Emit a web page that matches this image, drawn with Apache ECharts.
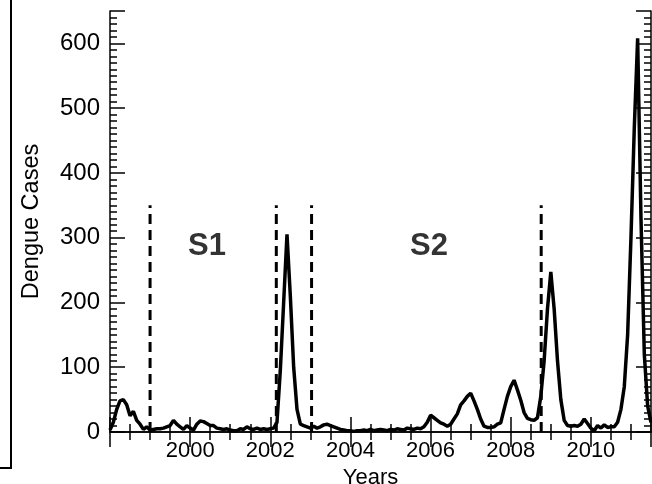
<!DOCTYPE html>
<html>
<head>
<meta charset="utf-8">
<script src="https://cdn.jsdelivr.net/npm/echarts@6/dist/echarts.min.js"></script>
<style>
  html, body { margin: 0; padding: 0; background: #fff; }
  #chart { width: 652px; height: 484px; }
</style>
</head>
<body>
<div id="chart"></div>
<script>
// monthly dengue cases, first month = Jan 1998
const startYear = 1998;
const cases = [
  3, 15, 35, 48, 50, 42, 25, 32, 18, 12, 4, 8,
  3, 4, 5, 5, 6, 8, 10, 18, 12, 8, 4, 10,
  6, 3, 12, 17, 16, 13, 10, 10, 6, 5, 4, 5,
  3, 2, 2, 5, 4, 8, 5, 4, 6, 4, 5, 4,
  5, 6, 15, 95, 200, 305, 210, 100, 35, 12, 10, 8,
  6, 9, 6, 8, 11, 12, 10, 8, 6, 4, 3, 2,
  2, 1, 2, 2, 3, 2, 4, 2, 3, 4, 3, 2,
  4, 3, 5, 4, 3, 6, 5, 4, 6, 5, 8, 15,
  26, 22, 18, 14, 12, 9, 12, 20, 28, 42, 48, 55,
  60, 48, 35, 20, 9, 7, 7, 8, 12, 14, 35, 55,
  70, 80, 65, 49, 30, 21, 19, 18, 22, 55, 110, 190,
  247, 190, 110, 50, 18, 10, 9, 10, 9, 12, 20, 13,
  6, 2, 10, 6, 11, 7, 8, 8, 15, 35, 70, 150,
  300, 470, 608, 330, 120, 40, 15
];

// dashed dividers between periods
const dividerYears = [1999.0, 2002.15, 2003.03, 2008.76];
const dividerTop = 350;

// period labels
const periodNames = ['S1', 'S2'];
const periodX = [2000.42, 2005.96];
const periodY = [286, 286];

const xTickLabels = [2000, 2002, 2004, 2006, 2008, 2010];
const yTickLabels = [0, 100, 200, 300, 400, 500, 600];

const xMin = 1998, xMax = 2011.5;
const yMin = 0, yMax = 650;

const font = 'Liberation Sans';

const lineData = cases.map((v, i) => [startYear + i / 12, v]);

// one axis for major ticks + labels, a second (no line) for the minor ticks
function xAx(pos, interval, len, withLabels) {
  return {
    type: 'value',
    position: pos,
    min: xMin,
    max: xMax,
    interval: interval,
    splitLine: { show: false },
    axisLine: { show: withLabels !== null, lineStyle: { color: '#000', width: 1.5 } },
    axisTick: { inside: true, length: len, lineStyle: { color: '#000', width: 1.5 } },
    axisLabel: withLabels ? {
      show: true,
      color: '#000',
      fontFamily: font,
      fontSize: 22,
      margin: 8,
      formatter: v => xTickLabels.includes(v) ? String(v) : ''
    } : { show: false }
  };
}

function yAx(pos, interval, len, withLabels) {
  return {
    type: 'value',
    position: pos,
    min: yMin,
    max: yMax,
    interval: interval,
    splitLine: { show: false },
    axisLine: { show: withLabels !== null, lineStyle: { color: '#000', width: 1.5 } },
    axisTick: { inside: true, length: len, lineStyle: { color: '#000', width: 1.5 } },
    axisLabel: withLabels ? {
      show: true,
      color: '#000',
      fontFamily: font,
      fontSize: 24,
      margin: 10,
      formatter: v => yTickLabels.includes(v) ? String(v) : ''
    } : { show: false }
  };
}

const xAxes = [
  xAx('bottom', 2, 15, true),
  xAx('bottom', 0.5, 8, null),
  xAx('top', 2, 15, false),
  xAx('top', 0.5, 8, null)
];
Object.assign(xAxes[0], {
  name: 'Years',
  nameLocation: 'middle',
  nameGap: 19,
  nameTextStyle: {
    color: '#000', fontFamily: font, fontSize: 22,
    verticalAlign: 'top', padding: [0, 20, 0, 0]
  }
});

const yAxes = [
  yAx('left', 100, 15, true),
  yAx('left', 10, 7, null),
  yAx('right', 100, 15, false),
  yAx('right', 10, 7, null)
];
Object.assign(yAxes[0], {
  name: 'Dengue Cases',
  nameLocation: 'middle',
  nameGap: 66,
  nameTextStyle: { color: '#000', fontFamily: font, fontSize: 23.5 }
});

const series = [
  {
    type: 'line',
    data: lineData,
    symbol: 'none',
    lineStyle: { color: '#000', width: 3.5 },
    z: 5
  }
];
dividerYears.forEach(x => {
  series.push({
    type: 'line',
    data: [[x, 0], [x, dividerTop]],
    symbol: 'none',
    lineStyle: { color: '#000', width: 3, type: [10, 6] },
    z: 4
  });
});
series.push({
  type: 'scatter',
  symbolSize: 0,
  data: periodNames.map((n, i) => ({ name: n, value: [periodX[i], periodY[i]] })),
  label: {
    show: true,
    position: 'inside',
    formatter: p => p.name,
    color: '#000',
    textBorderWidth: 0,
    fontFamily: font,
    fontWeight: 'bold',
    fontSize: 31
  }
});

const chart = echarts.init(document.getElementById('chart'), null, { renderer: 'canvas' });
chart.setOption({
  animation: false,
  backgroundColor: '#fff',
  grid: { left: 110, right: 1, top: 11, bottom: 52, outerBoundsMode: 'none' },
  xAxis: xAxes,
  yAxis: yAxes,
  series: series,
  graphic: [
    {
      type: 'polyline',
      shape: { points: [[11, 0], [11, 468], [0, 468]] },
      style: { stroke: '#000', lineWidth: 2, fill: null }
    }
  ]
});
</script>
</body>
</html>
